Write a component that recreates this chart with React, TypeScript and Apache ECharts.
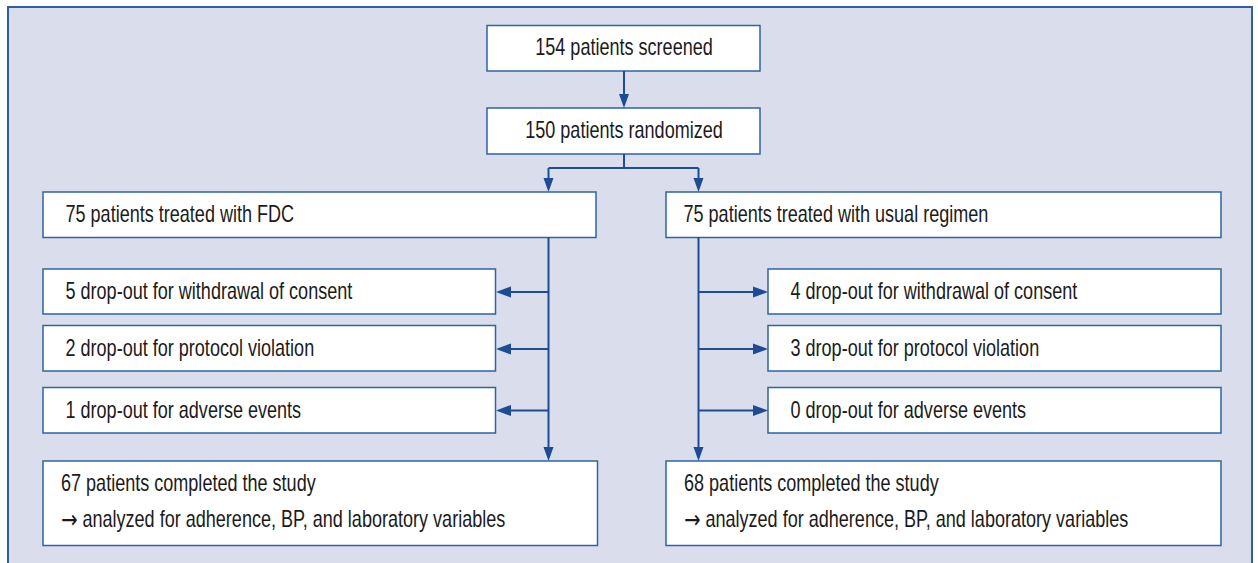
import React, { useEffect, useRef } from "react";
import * as echarts from "echarts";

// ---- data ----
const screened = 154;
const randomized = 150;
const armNames = ["FDC", "usual regimen"];
const armTreated = [75, 75];
const dropReasons = ["withdrawal of consent", "protocol violation", "adverse events"];
const dropFDC = [5, 2, 1];
const dropUsual = [4, 3, 0];
const completed = [67, 68];
const analysisNote = "analyzed for adherence, BP, and laboratory variables";

const LINE = "#1c4d94";
const BOX = "#2f63a6";
const TXT = "#1b1b1b";
const FONT = '"Liberation Sans", Arial, sans-serif';
const FS = 23;
const SX = 0.785;

function box(x: number, y: number, w: number, h: number) {
  return {
    type: "rect",
    shape: { x, y, width: w, height: h },
    style: { fill: "#ffffff", stroke: BOX, lineWidth: 1.5 },
  };
}
function label(text: string, x: number, y: number, align = "left", rich?: any) {
  return {
    type: "text",
    x,
    y,
    scaleX: SX,
    style: {
      text,
      fill: TXT,
      font: `${FS}px ${FONT}`,
      textAlign: align,
      textVerticalAlign: "middle",
      rich,
    },
  };
}
function noteLabel(x: number, y: number) {
  return label(`{a|→} {b|${analysisNote}}`, x, y, "left", {
    a: { font: '25px "DejaVu Sans", sans-serif', fill: TXT, verticalAlign: "middle" },
    b: { font: `${FS}px ${FONT}`, fill: TXT, verticalAlign: "middle" },
  });
}
function seg(x1: number, y1: number, x2: number, y2: number) {
  return {
    type: "line",
    shape: { x1, y1, x2, y2 },
    style: { stroke: LINE, lineWidth: 2 },
  };
}
function arrowDown(x: number, y1: number, y2: number) {
  return [
    seg(x, y1, x, y2 - 12),
    { type: "polygon", shape: { points: [[x - 5, y2 - 14], [x + 5, y2 - 14], [x, y2]] }, style: { fill: LINE } },
  ];
}
function arrowH(x1: number, x2: number, y: number) {
  const dir = x2 > x1 ? 1 : -1;
  return [
    seg(x1, y, x2 - dir * 12, y),
    { type: "polygon", shape: { points: [[x2 - dir * 15, y - 5.5], [x2 - dir * 15, y + 5.5], [x2, y]] }, style: { fill: LINE } },
  ];
}

export default function App() {
  const ref = useRef<HTMLDivElement>(null);
  useEffect(() => {
    document.body.style.margin = "0";
    if (!ref.current) return;
    const chart = echarts.init(ref.current, null, { renderer: "svg" });
    const els: any[] = [];
    // outer frame
    els.push({
      type: "rect",
      shape: { x: 8, y: 7, width: 1244, height: 570 },
      style: { fill: "#dadeec", stroke: "#2e5f9f", lineWidth: 2 },
    });
    // top boxes
    els.push(box(487, 25.5, 273, 45.5));
    els.push(label(`${screened} patients screened`, 624, 47, "center"));
    els.push(...arrowDown(624, 71, 108));
    els.push(box(487, 108, 273, 46));
    els.push(label(`${randomized} patients randomized`, 624, 130, "center"));
    els.push(seg(624, 154, 624, 168));
    els.push(seg(548.5, 168, 698.5, 168));
    els.push(...arrowDown(548.5, 168, 192));
    els.push(...arrowDown(698.5, 168, 192));

    const dropY = [269, 325.5, 387.5];
    const dropH = [45, 45.5, 45.5];
    const arrowY = [292, 349, 410.5];
    // left arm
    els.push(box(43, 192, 553, 45.5));
    els.push(label(`${armTreated[0]} patients treated with ${armNames[0]}`, 65.5, 213.5));
    els.push(...arrowDown(548.5, 237.5, 461));
    dropReasons.forEach((r, i) => {
      els.push(box(43, dropY[i], 452.5, dropH[i]));
      els.push(label(`${dropFDC[i]} drop-out for ${r}`, 65.5, dropY[i] + dropH[i] / 2 - 1));
      els.push(...arrowH(548.5, 496, arrowY[i]));
    });
    els.push(box(43, 461, 554.5, 84.5));
    els.push(label(`${completed[0]} patients completed the study`, 61, 482.5));
    els.push(noteLabel(61, 519));
    // right arm
    els.push(box(666, 192, 555, 45.5));
    els.push(label(`${armTreated[1]} patients treated with ${armNames[1]}`, 683.5, 213.5));
    els.push(...arrowDown(698.5, 237.5, 461));
    dropReasons.forEach((r, i) => {
      els.push(box(768, dropY[i], 453, dropH[i]));
      els.push(label(`${dropUsual[i]} drop-out for ${r}`, 790.5, dropY[i] + dropH[i] / 2 - 1));
      els.push(...arrowH(698.5, 768, arrowY[i]));
    });
    els.push(box(666, 461, 555, 84.5));
    els.push(label(`${completed[1]} patients completed the study`, 684, 482.5));
    els.push(noteLabel(684, 519));

    chart.setOption({ animation: false, graphic: { elements: els } });
    return () => chart.dispose();
  }, []);
  return <div ref={ref} style={{ width: 1258, height: 563, background: "#ffffff" }} />;
}
